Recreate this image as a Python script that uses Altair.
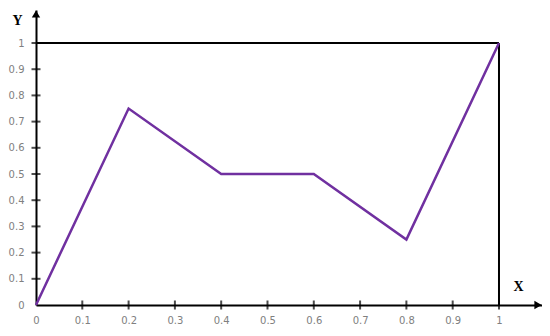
import altair as alt
import pandas as pd

# data
xs = [0, 0.2, 0.4, 0.6, 0.8, 1.0]
ys = [0, 0.75, 0.5, 0.5, 0.25, 1.0]
tick_vals = [0.1, 0.2, 0.3, 0.4, 0.5, 0.6, 0.7, 0.8, 0.9, 1.0]
label_vals = [0, 0.1, 0.2, 0.3, 0.4, 0.5, 0.6, 0.7, 0.8, 0.9, 1.0]
x_max = 1.0929
y_max = 1.126

line_df = pd.DataFrame({"x": xs, "y": ys})
xt_df = pd.DataFrame({"x": tick_vals, "y": [0] * len(tick_vals)})
yt_df = pd.DataFrame({"x": [0] * len(tick_vals), "y": tick_vals})
frame_df = pd.DataFrame({"x": [0, 1.0], "x2": [1.0, 1.0], "y": [1.0, 0], "y2": [1.0, 1.0]})
arrow_up = pd.DataFrame({"x": [0], "y": [y_max]})
arrow_right = pd.DataFrame({"x": [x_max], "y": [0]})

xscale = alt.Scale(domain=[0, x_max], nice=False, zero=False)
yscale = alt.Scale(domain=[0, y_max], nice=False, zero=False)

xaxis = alt.Axis(values=label_vals, format=".1~f", grid=False, ticks=False, tickSize=0,
                 domain=True, domainColor="#000000", domainWidth=2,
                 labelFont="DejaVu Sans", labelFontSize=10, labelColor="#808080",
                 labelPadding=10, labelFlush=False, labelOverlap=False,
                 title="X", titleFont="Liberation Serif", titleFontSize=14, titleFontWeight="bold",
                 titleColor="#000000", titleX=482, titleY=-19, titleBaseline="middle", titleAlign="center")
yaxis = alt.Axis(values=label_vals, format=".1~f", grid=False, ticks=False, tickSize=0,
                 domain=True, domainColor="#000000", domainWidth=2,
                 labelFont="DejaVu Sans", labelFontSize=10, labelColor="#808080",
                 labelPadding=12, labelFlush=False, labelOverlap=False,
                 title="Y", titleFont="Liberation Serif", titleFontSize=14, titleFontWeight="bold",
                 titleColor="#000000", titleAngle=0, titleX=-19, titleY=10,
                 titleBaseline="middle", titleAlign="center")


def ex():
    return alt.X("x:Q", scale=xscale, axis=xaxis)


def ey():
    return alt.Y("y:Q", scale=yscale, axis=yaxis)


frame = alt.Chart(frame_df).mark_rule(color="#000000", strokeWidth=2).encode(
    x=ex(), x2="x2", y=ey(), y2="y2")

xticks = alt.Chart(xt_df).mark_tick(orient="vertical", color="#000000", size=9, thickness=2).encode(
    x=ex(), y=ey())
yticks = alt.Chart(yt_df).mark_tick(orient="horizontal", color="#000000", size=9, thickness=2).encode(
    x=ex(), y=ey())

line = alt.Chart(line_df).mark_line(color="#7030A0", strokeWidth=2.5).encode(x=ex(), y=ey())

aup = alt.Chart(arrow_up).mark_point(shape="triangle-up", filled=True, color="#000000",
                                     size=70, opacity=1, yOffset=4).encode(x=ex(), y=ey())
aright = alt.Chart(arrow_right).mark_point(shape="triangle-right", filled=True, color="#000000",
                                           size=70, opacity=1, xOffset=-4).encode(x=ex(), y=ey())

chart = alt.layer(frame, xticks, yticks, line, aup, aright).properties(
    width=506, height=295,
    autosize=alt.AutoSizeParams(type="none"),
    padding={"left": 28, "top": 2, "right": 0, "bottom": 23},
).configure(background="#ffffff").configure_view(strokeWidth=0, stroke="transparent")

chart.save("out.html", embed_options={"renderer": "svg", "actions": False})
